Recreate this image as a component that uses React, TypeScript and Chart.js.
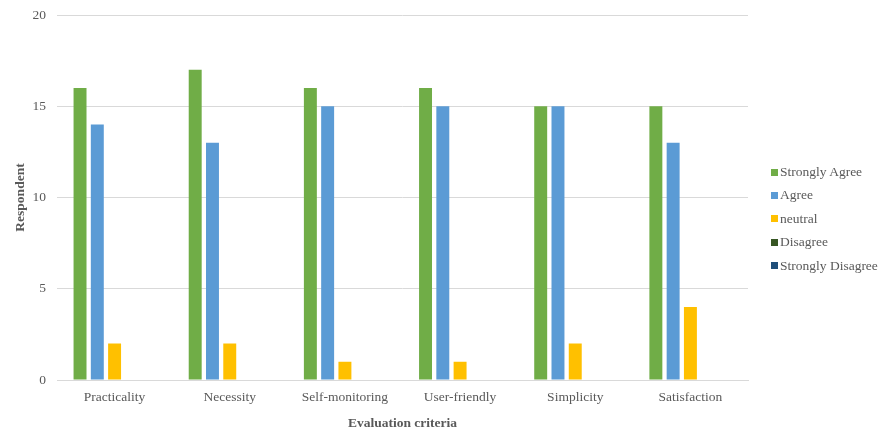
import React, { useEffect, useRef } from "react";
import { Chart, registerables } from "chart.js";

Chart.register(...registerables);

const categories = ["Practicality", "Necessity", "Self-monitoring", "User-friendly", "Simplicity", "Satisfaction"];
const seriesNames = ["Strongly Agree", "Agree", "neutral", "Disagree", "Strongly Disagree"];
const seriesColors = ["#70ad47", "#5b9bd5", "#ffc000", "#375623", "#1f4e79"];
const stronglyAgree = [16, 17, 16, 16, 15, 15];
const agree = [14, 13, 15, 15, 15, 13];
const neutral = [2, 2, 1, 1, 2, 4];
const disagree = [0, 0, 0, 0, 0, 0];
const stronglyDisagree = [0, 0, 0, 0, 0, 0];
const yTicks = [0, 5, 10, 15, 20];

const FONT = "'Liberation Serif', 'Times New Roman', serif";
const TEXT = "#595959";

export default function App() {
  const ref = useRef<HTMLCanvasElement | null>(null);
  useEffect(() => {
    if (!ref.current) return;
    const seriesData = [stronglyAgree, agree, neutral, disagree, stronglyDisagree];
    const chart = new Chart(ref.current, {
      type: "bar",
      data: {
        labels: categories,
        datasets: seriesNames.map((name, i) => ({
          label: name,
          data: seriesData[i],
          backgroundColor: seriesColors[i],
          borderWidth: 0,
          barPercentage: 0.75,
          categoryPercentage: 0.75,
        })),
      },
      options: {
        animation: false,
        responsive: false,
        maintainAspectRatio: false,
        layout: { padding: { top: 15, right: 136, bottom: 0, left: 6 } },
        plugins: {
          tooltip: { enabled: false },
          legend: { display: false },
        },
        scales: {
          x: {
            grid: { display: false, drawTicks: false },
            border: { color: "#d9d9d9", width: 1 },
            ticks: { color: TEXT, font: { family: FONT, size: 13.5 }, padding: 9 },
            afterFit: (axis: any) => {
              axis.height = 52;
            },
            title: {
              display: true,
              text: "Evaluation criteria",
              color: TEXT,
              font: { family: FONT, size: 13.5, weight: "bold" },
              padding: { top: 4, bottom: 0 },
            },
          },
          y: {
            min: 0,
            max: 20,
            afterBuildTicks: (axis: any) => {
              axis.ticks = yTicks.map((v) => ({ value: v }));
            },
            afterFit: (axis: any) => {
              axis.width = 51;
              axis.paddingTop = 0;
              axis.paddingBottom = 0;
            },
            grid: { color: "#d9d9d9", drawTicks: false },
            border: { display: false },
            ticks: { color: TEXT, font: { family: FONT, size: 13.5 }, padding: 11 },
            title: {
              display: true,
              text: "Respondent",
              color: TEXT,
              font: { family: FONT, size: 13.5, weight: "bold" },
              padding: { top: 6, bottom: 0 },
            },
          },
        },
      },
    });
    return () => chart.destroy();
  }, []);
  return (
    <div style={{ position: "absolute", left: 0, top: 0, width: 884, height: 432, background: "#fff" }}>
      <canvas ref={ref} width={884} height={432} />
      {seriesNames.map((name, i) => (
        <div
          key={name}
          style={{
            position: "absolute",
            left: 771,
            top: 172 + i * 23.4 - 9,
            height: 18,
            display: "flex",
            alignItems: "center",
            fontFamily: FONT,
            fontSize: 13.5,
            color: TEXT,
            whiteSpace: "nowrap",
          }}
        >
          <span style={{ display: "inline-block", width: 7, height: 7, background: seriesColors[i], marginRight: 2 }} />
          <span>{name}</span>
        </div>
      ))}
    </div>
  );
}
